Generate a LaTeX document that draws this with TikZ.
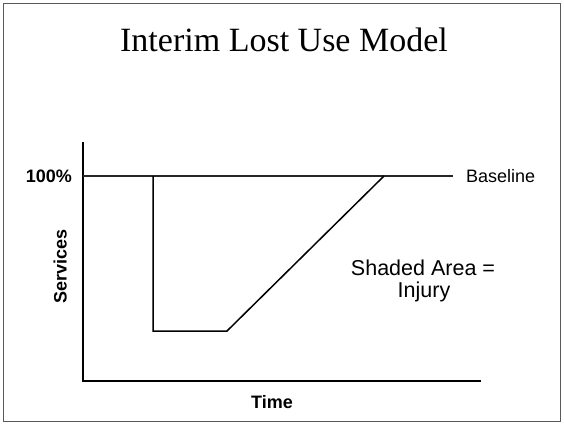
\documentclass[tikz,border=0pt]{standalone}
\usepackage{fontspec}
\setmainfont{Liberation Serif}
\setsansfont{Liberation Sans}
\begin{document}
\begin{tikzpicture}[x=1pt,y=-1pt,
  lbl/.style={font=\sffamily\fontsize{18}{21}\selectfont, inner sep=0pt},
  blbl/.style={font=\sffamily\bfseries\fontsize{18}{21}\selectfont, inner sep=0pt},
  axisline/.style={line width=2pt, black},
  curve/.style={line width=1.5pt, black, line join=miter},
  baseln/.style={line width=1.2pt, black!85}]
\useasboundingbox (0,0) rectangle (564,424);
\draw[line width=1.3pt, black!65] (3.5,3.5) rectangle (560.5,421.5);
\node[font=\rmfamily\fontsize{34}{40}\selectfont, inner sep=0pt, anchor=base] (title) at (284,51) {Interim Lost Use Model};
% axes
\coordinate (ytop) at (83,142);
\coordinate (origin) at (83,381);
\coordinate (xend) at (481,381);
\draw[axisline] (ytop) -- (origin) -- (xend);
% baseline
\coordinate (b0) at (83,176);
\coordinate (b1) at (453,176);
\draw[baseln] (b0) -- (b1);
% loss curve
\coordinate (drop) at (153,176);
\coordinate (low1) at (153,331);
\coordinate (low2) at (227,331);
\coordinate (rec) at (384,176);
\draw[curve] (drop) -- (low1) -- (low2) -- (rec);
% labels
\node[blbl, anchor=east] (pct) at (72,176) {100\%};
\node[lbl, anchor=west] (bl) at (466,176) {Baseline};
\node[blbl, anchor=base, rotate=90] (serv) at (66.5,266.5) {Services};
\node[blbl, anchor=base] (time) at (272,408.3) {Time};
\node[font=\sffamily\fontsize{21.5}{24}\selectfont, inner sep=0pt, anchor=base] (shaded) at (423,275) {Shaded Area =};
\node[font=\sffamily\fontsize{21.5}{24}\selectfont, inner sep=0pt, anchor=base] (injury) at (424,297.5) {Injury};
\end{tikzpicture}
\end{document}
